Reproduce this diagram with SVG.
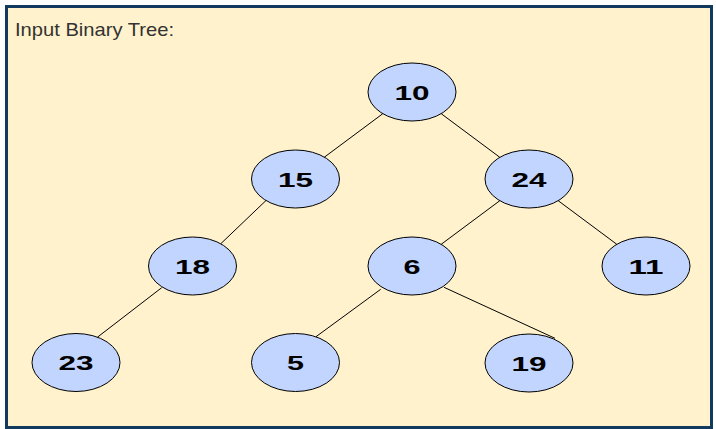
<svg xmlns="http://www.w3.org/2000/svg" width="716" height="429" viewBox="0 0 716 429">
<style>
.frame{fill:#fff2cc;stroke:#123a5e;stroke-width:3}
.title{font-family:"Liberation Sans",Arial,sans-serif;font-size:19px;fill:#333333}
.node ellipse{fill:#c2d5ff;stroke:#000000;stroke-width:1}
.node text{font-family:"Liberation Sans",Arial,sans-serif;font-size:21px;font-weight:bold;fill:#000000;text-anchor:middle}
.edges line{stroke:#000000;stroke-width:1}
</style>
<rect class="frame" x="6.5" y="6.5" width="705" height="421"/>
<text class="title" x="15" y="36" textLength="159" lengthAdjust="spacingAndGlyphs">Input Binary Tree:</text>
<g id="edges" class="edges">
<line x1="382.8" y1="113.7" x2="324.2" y2="157.3"/>
<line x1="441.2" y1="113.7" x2="499.8" y2="157.3"/>
<line x1="266" y1="200.5" x2="221" y2="243.5"/>
<line x1="499.8" y1="200.7" x2="441.2" y2="244.3"/>
<line x1="558.2" y1="200.7" x2="616.8" y2="244.3"/>
<line x1="161.7" y1="287.7" x2="97.3" y2="337.3"/>
<line x1="380.7" y1="289.3" x2="316" y2="336.7"/>
<line x1="444" y1="287.3" x2="555" y2="338.3"/>
</g>
<g id="n10" class="node"><ellipse cx="412" cy="92" rx="44" ry="29"/><text x="412" y="99.5" textLength="35" lengthAdjust="spacingAndGlyphs">10</text></g>
<g id="n15" class="node"><ellipse cx="295.5" cy="179" rx="44" ry="29"/><text x="295.5" y="186.5" textLength="35" lengthAdjust="spacingAndGlyphs">15</text></g>
<g id="n24" class="node"><ellipse cx="529" cy="179" rx="44" ry="29"/><text x="529" y="186.5" textLength="35" lengthAdjust="spacingAndGlyphs">24</text></g>
<g id="n18" class="node"><ellipse cx="192.5" cy="266" rx="44" ry="29"/><text x="192.5" y="273.5" textLength="35" lengthAdjust="spacingAndGlyphs">18</text></g>
<g id="n6" class="node"><ellipse cx="412" cy="266" rx="44" ry="29"/><text x="412" y="273.5" textLength="17" lengthAdjust="spacingAndGlyphs">6</text></g>
<g id="n11" class="node"><ellipse cx="646" cy="266" rx="44" ry="29"/><text x="646" y="273.5" textLength="35" lengthAdjust="spacingAndGlyphs">11</text></g>
<g id="n23" class="node"><ellipse cx="76" cy="362.5" rx="44" ry="29"/><text x="76" y="370" textLength="35" lengthAdjust="spacingAndGlyphs">23</text></g>
<g id="n5" class="node"><ellipse cx="295.5" cy="362.5" rx="44" ry="29"/><text x="295.5" y="370" textLength="17" lengthAdjust="spacingAndGlyphs">5</text></g>
<g id="n19" class="node"><ellipse cx="529" cy="363" rx="44" ry="29"/><text x="529" y="370.5" textLength="35" lengthAdjust="spacingAndGlyphs">19</text></g>
</svg>
